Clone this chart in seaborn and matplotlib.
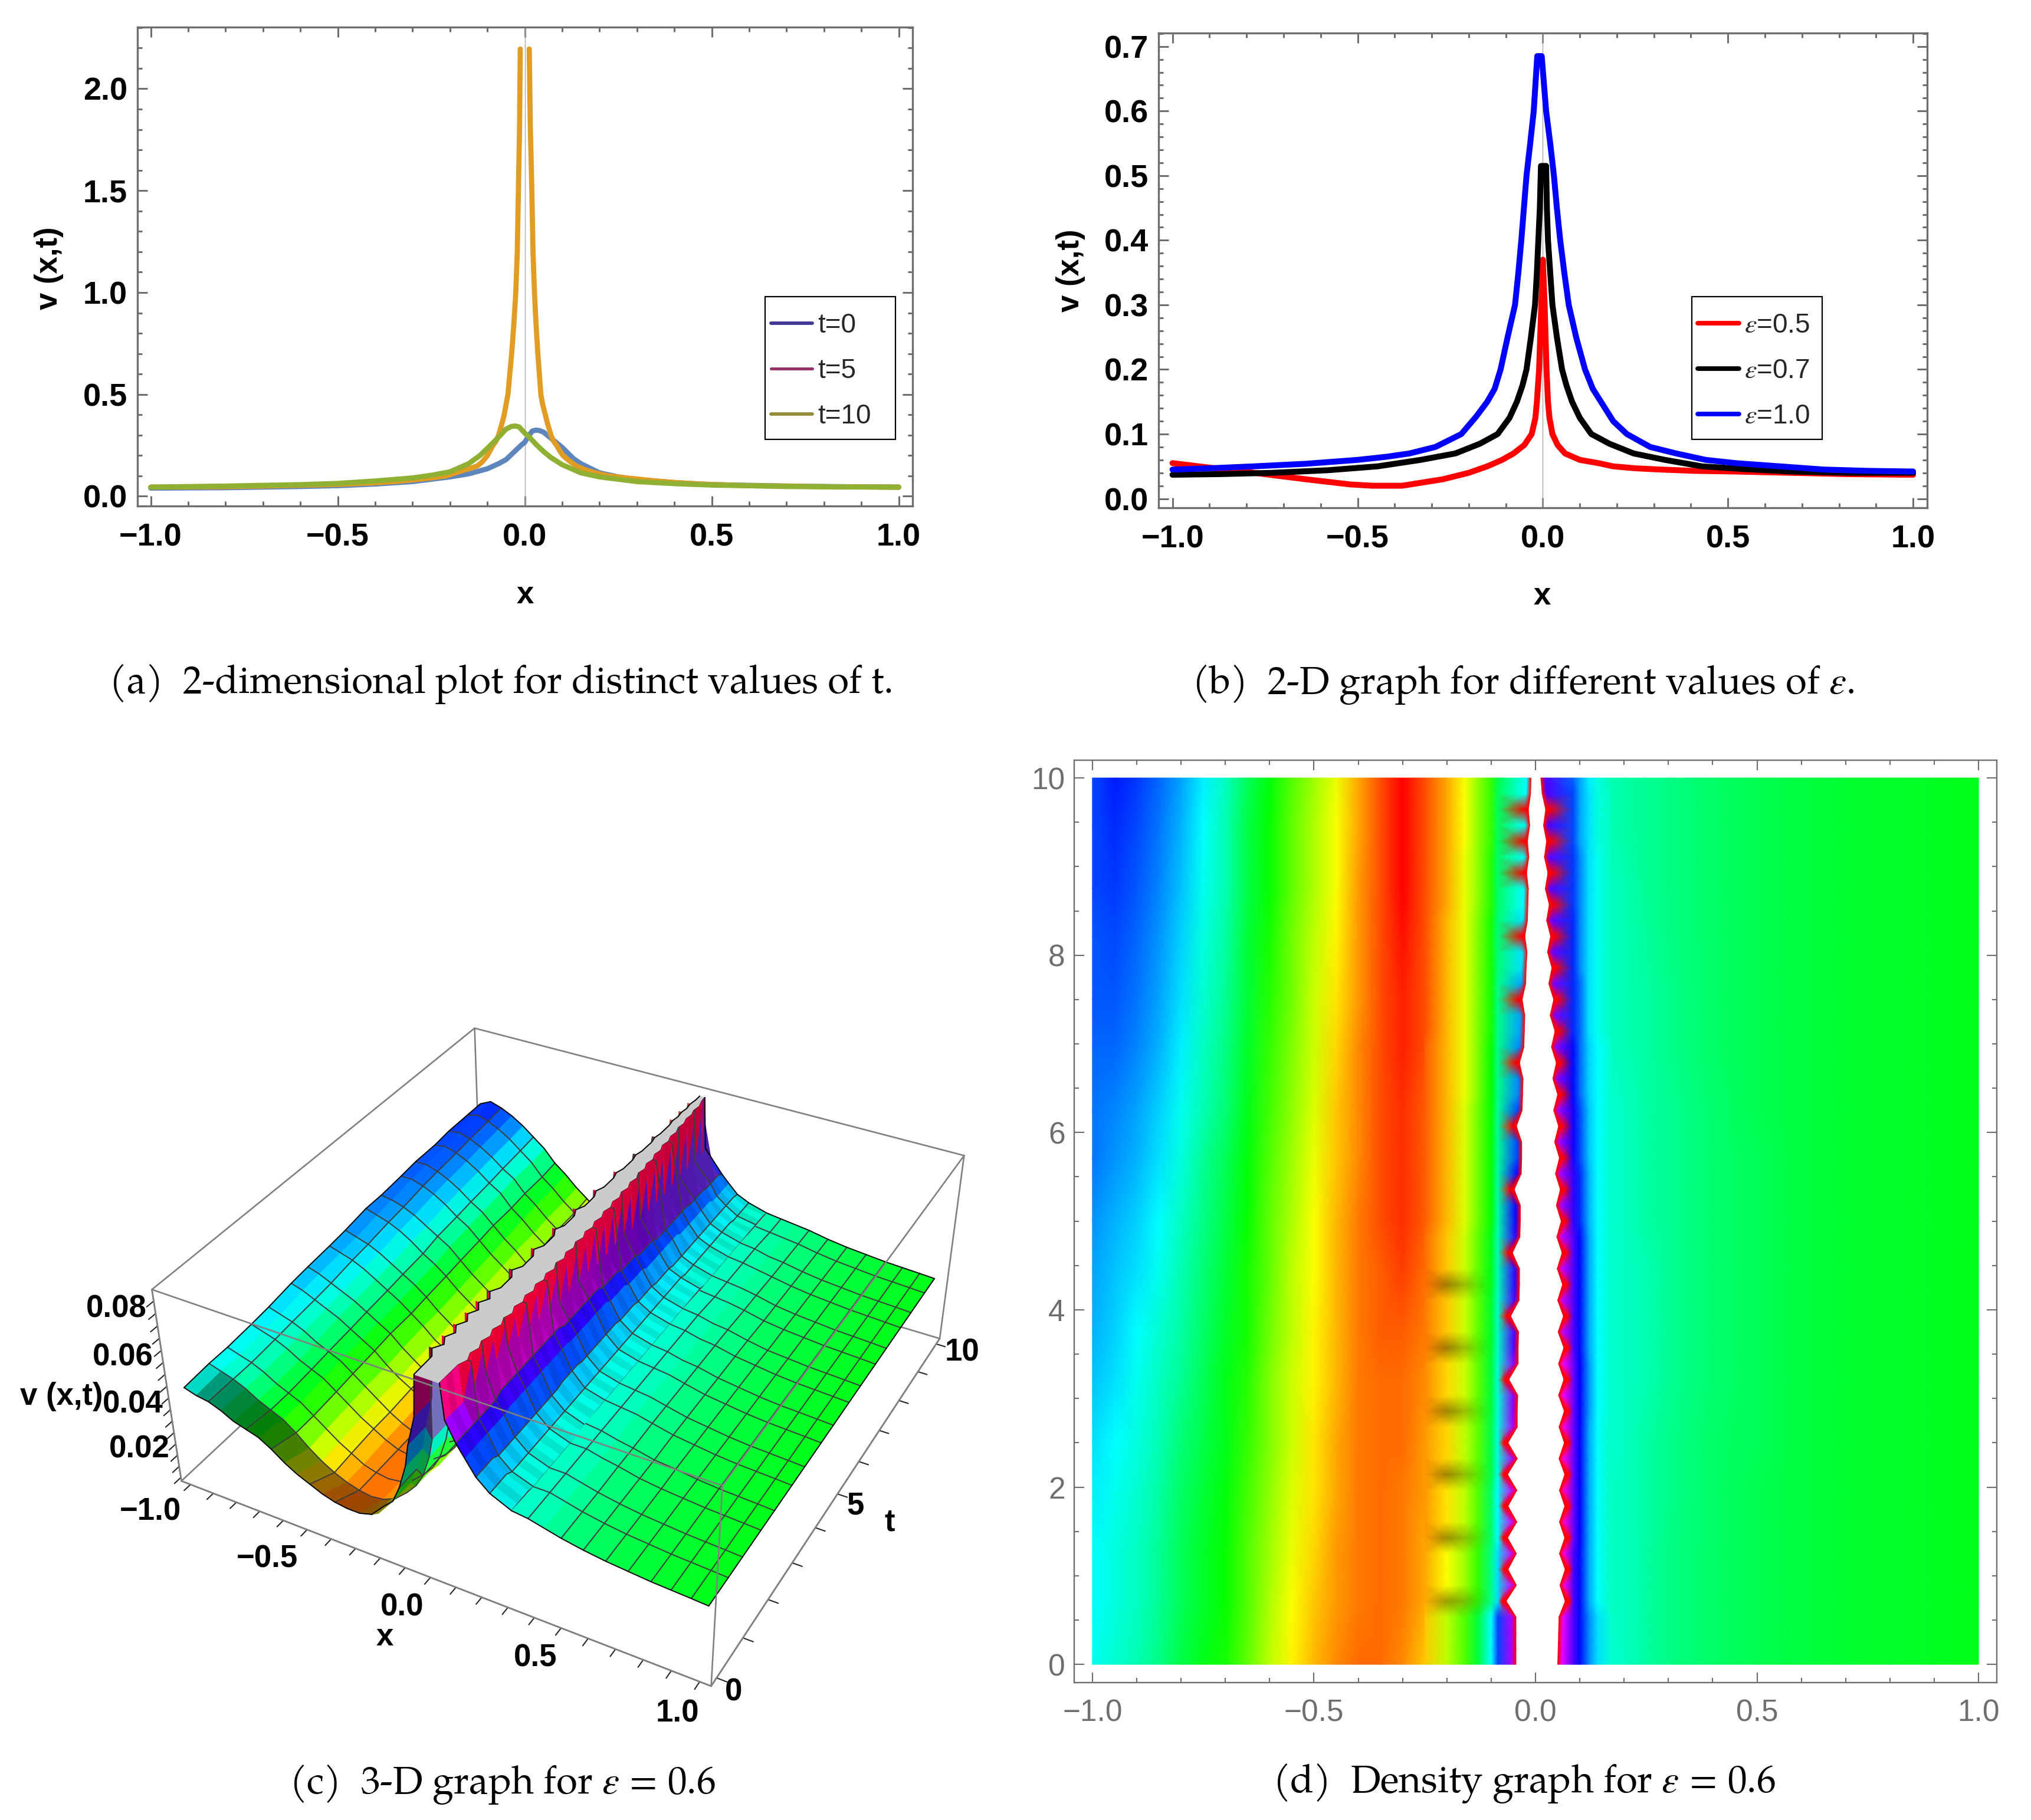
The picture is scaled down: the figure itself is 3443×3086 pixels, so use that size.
import numpy as np
import matplotlib
matplotlib.use('Agg')
import matplotlib.pyplot as plt
import seaborn as sns
from matplotlib.colors import hsv_to_rgb
from matplotlib.lines import Line2D
from matplotlib.patches import Rectangle
from matplotlib.ticker import MultipleLocator

sns.set_theme(style='ticks')
plt.rcParams['font.family'] = ['Liberation Sans']
plt.rcParams['mathtext.fontset'] = 'stix'

W, H = 3443, 3086

# ---------------- panel (a) ----------------
a_blue_x = [-1, -.8, -.6, -.5, -.4, -.3, -.2, -.15, -.1, -.07, -.05, -.03, -.01, 0, .01, .02, .03, .04, .05, .07, .1, .13, .15, .2, .25, .3, .4, .5, .7, .85, 1]
a_blue_y = [.04, .042, .048, .052, .06, .072, .095, .11, .135, .16, .18, .215, .25, .265, .295, .32, .325, .322, .315, .285, .24, .185, .16, .115, .095, .082, .067, .057, .05, .047, .045]
a_orange_left_x = [-1, -.8, -.7, -.6, -.5, -.45, -.4, -.35, -.3, -.25, -.21, -.18, -.16, -.14, -.126, -.113, -.1, -.085, -.077, -.07, -.062, -.055, -.05, -.045, -.04, -.035, -.029, -.024, -.02, -.017, -.014, -.012]
a_orange_left_y = [.045, .047, .05, .054, .058, .062, .066, .072, .08, .09, .1, .118, .13, .14, .15, .17, .2, .25, .27, .3, .35, .4, .45, .5, .6, .7, .85, 1, 1.2, 1.5, 1.8, 2.195]
a_orange_right_x = [.012, .015, .019, .022, .026, .03, .035, .039, .043, .048, .055, .062, .07, .077, .085, .093, .102, .118, .137, .155, .17, .185, .2, .225, .25, .27, .3, .35, .4, .45, .5, .6, .7, .8, 1]
a_orange_right_y = [2.195, 1.8, 1.5, 1.2, 1, .85, .7, .6, .5, .45, .4, .35, .3, .27, .25, .225, .2, .175, .15, .135, .125, .117, .11, .1, .095, .09, .085, .075, .068, .062, .058, .052, .05, .047, .045]
a_green_x = [-1, -.8, -.6, -.5, -.4, -.3, -.25, -.2, -.15, -.12, -.1, -.07, -.05, -.035, -.025, -.015, 0, .015, .03, .05, .07, .1, .15, .2, .3, .4, .5, .7, 1]
a_green_y = [.045, .05, .057, .063, .075, .09, .103, .12, .16, .2, .235, .29, .33, .343, .345, .34, .31, .285, .255, .22, .19, .155, .115, .095, .072, .062, .055, .048, .044]
a_labels = ['t=0', 't=5', 't=10']

# ---------------- panel (b) ----------------
b_red_x = [-1, -.9, -.78, -.64, -.52, -.46, -.38, -.27, -.2, -.15, -.11, -.079, -.05, -.03, -.02, -.016, -.01, -.004, 0, .005, .01, .014, .018, .026, .04, .06, .1, .15, .19, .25, .32, .41, .52, .67, .82, 1]
b_red_y = [.055, .048, .04, .03, .022, .02, .02, .03, .04, .05, .06, .07, .083, .1, .125, .15, .2, .3, .37, .3, .2, .15, .125, .1, .083, .07, .06, .055, .05, .047, .045, .043, .042, .04, .038, .037]
b_black_x = [-1, -.87, -.73, -.58, -.446, -.33, -.236, -.17, -.122, -.09, -.07, -.055, -.044, -.032, -.021, -.016, -.012, -.008, -.005, .009, .011, .014, .02, .026, .038, .052, .064, .079, .1, .131, .18, .245, .33, .43, .54, .67, .83, 1]
b_black_y = [.037, .038, .04, .044, .05, .06, .07, .085, .1, .125, .15, .175, .2, .25, .3, .35, .4, .45, .515, .515, .45, .4, .35, .3, .25, .2, .175, .15, .125, .1, .085, .07, .06, .05, .046, .042, .04, .04]
b_blue_x = [-1, -.9, -.78, -.64, -.5, -.42, -.36, -.29, -.22, -.18, -.15, -.13, -.114, -.095, -.075, -.066, -.058, -.051, -.044, -.034, -.0245, -.015, -.003, .009, .02, .03, .038, .047, .058, .07, .09, .114, .135, .157, .19, .227, .29, .36, .44, .52, .64, .76, .88, 1]
b_blue_y = [.045, .047, .05, .054, .06, .065, .07, .08, .1, .127, .15, .17, .2, .25, .3, .35, .4, .45, .5, .55, .6, .685, .685, .6, .55, .5, .45, .4, .35, .3, .25, .2, .17, .15, .12, .1, .08, .07, .06, .055, .05, .045, .043, .042]
b_labels = [r'$\epsilon$=0.5', r'$\epsilon$=0.7', r'$\epsilon$=1.0']

# ---------------- panels (c), (d): colour hue read at grid nodes ----------------
x_far_left = [-1, -.95, -.9, -.85, -.8, -.75, -.7, -.65, -.6, -.55, -.5, -.45, -.4, -.35, -.3, -.25]
x_far_right = [.17, .2, .25, .3, .4, .5, .6, .7, .8, .9, 1]
hue_far_left = [
    [.49, .47, .45, .42, .38, .35, .32, .27, .21, .16, .12, .09, .07, .07, .09, .13],
    [.50, .48, .46, .43, .39, .36, .33, .28, .22, .17, .13, .10, .08, .07, .08, .11],
    [.50, .48, .46, .43, .39, .36, .33, .28, .23, .18, .14, .10, .08, .07, .08, .11],
    [.51, .49, .47, .44, .40, .37, .34, .29, .24, .19, .15, .11, .08, .07, .08, .10],
    [.52, .50, .48, .45, .41, .38, .35, .30, .25, .20, .15, .11, .08, .07, .07, .10],
    [.54, .52, .49, .46, .43, .39, .35, .31, .25, .20, .16, .12, .08, .07, .07, .09],
    [.55, .53, .50, .47, .44, .40, .36, .32, .26, .21, .16, .12, .08, .06, .06, .08],
    [.56, .54, .52, .49, .45, .41, .37, .32, .27, .21, .17, .12, .08, .06, .04, .07],
    [.57, .55, .53, .50, .46, .42, .38, .33, .27, .22, .17, .12, .08, .05, .03, .06],
    [.59, .57, .55, .52, .48, .43, .39, .34, .28, .23, .18, .13, .09, .05, .03, .06],
    [.59, .58, .56, .53, .49, .45, .41, .35, .29, .24, .19, .13, .09, .05, .03, .06],
    [.60, .60, .58, .55, .51, .46, .42, .36, .30, .25, .20, .14, .09, .05, .02, .05],
    [.61, .61, .59, .56, .52, .47, .43, .37, .31, .26, .20, .15, .10, .05, .02, .05],
    [.61, .62, .60, .57, .53, .48, .44, .37, .32, .26, .21, .16, .10, .05, .01, .05],
    [.62, .63, .61, .58, .54, .49, .45, .38, .33, .27, .22, .17, .10, .05, .00, .05],
    [.62, .64, .62, .59, .55, .50, .45, .38, .33, .27, .22, .17, .11, .05, .00, .05],
    [.62, .65, .63, .60, .56, .51, .46, .39, .34, .28, .23, .18, .11, .05, .00, .05],
]
hue_far_right = [
    [.47, .46, .44, .42, .40, .385, .375, .365, .36, .355, .35],
    [.46, .46, .44, .42, .40, .385, .375, .365, .36, .355, .35],
    [.46, .46, .44, .42, .40, .385, .375, .365, .36, .355, .35],
    [.46, .46, .44, .425, .40, .385, .375, .365, .36, .355, .35],
    [.47, .46, .44, .425, .40, .39, .375, .365, .36, .355, .35],
    [.47, .46, .45, .43, .405, .39, .375, .365, .36, .355, .35],
    [.47, .46, .45, .43, .405, .39, .375, .365, .36, .355, .35],
    [.47, .46, .45, .43, .405, .39, .375, .365, .36, .355, .35],
    [.47, .46, .44, .43, .405, .39, .375, .365, .36, .355, .35],
    [.47, .46, .44, .43, .405, .39, .375, .365, .36, .355, .35],
    [.47, .46, .44, .43, .405, .385, .375, .365, .36, .355, .35],
    [.46, .45, .44, .425, .40, .385, .375, .365, .36, .355, .35],
    [.46, .45, .44, .425, .40, .385, .375, .365, .36, .355, .35],
    [.46, .45, .435, .42, .40, .385, .375, .365, .36, .355, .35],
    [.46, .45, .43, .42, .40, .385, .375, .365, .36, .355, .35],
    [.45, .44, .43, .42, .40, .385, .375, .365, .36, .355, .35],
    [.45, .44, .43, .42, .40, .385, .375, .365, .36, .355, .35],
]
far_row_index = [0, 4, 7, 11, 14, 18, 21, 25, 28, 32, 35, 39, 42, 46, 49, 53, 56]

x_near_left = [-.25, -.2, -.16, -.13, -.1, -.085]
x_near_right = [.085, .10, .12, .14, .17]
# the 3-D surface of panel (c) reaches the same hues further from the ridge
x3d_near_right = [.10, .13, .17, .22, .30]
x3d_far_right = [.30, .36, .42, .48, .56, .64, .72, .80, .87, .94, 1]
# height of the front (t = 0) edge above the hue level, in hue units
front_lift_far = [0, 0, .01, .015, .02, .03, .04, .05, .06, .07, .08, .08, .08, .07, .05, .03]
front_lift_near = [.03, .02, 0, 0, 0, 0, 0, 0]
hue_near_left = [
    [.13, .21, .28, .37, .50, .62],
    [.11, .17, .23, .30, .42, .52],
    [.10, .15, .21, .28, .40, .50],
    [.10, .14, .21, .27, .38, .48],
    [.09, .14, .20, .27, .37, .47],
    [.08, .13, .20, .27, .36, .46],
    [.07, .13, .20, .27, .35, .45],
    [.06, .12, .19, .26, .33, .44],
    [.06, .12, .19, .26, .33, .43],
    [.06, .12, .18, .25, .33, .42],
    [.05, .12, .18, .25, .32, .42],
    [.05, .12, .18, .25, .32, .41],
    [.05, .11, .18, .24, .31, .40],
    [.05, .11, .17, .24, .30, .39],
    [.05, .11, .17, .24, .30, .38],
]
hue_near_right = [
    [.72, .66, .58, .52, .47],
    [.72, .66, .56, .50, .46],
    [.74, .67, .56, .50, .46],
    [.74, .67, .56, .50, .46],
    [.74, .67, .57, .50, .47],
    [.72, .66, .56, .50, .47],
    [.72, .66, .56, .50, .47],
    [.70, .64, .55, .50, .47],
    [.68, .62, .54, .50, .47],
    [.66, .60, .53, .50, .47],
    [.64, .60, .52, .49, .46],
    [.64, .58, .52, .49, .46],
    [.63, .58, .52, .49, .46],
    [.62, .56, .52, .48, .46],
    [.60, .56, .51, .48, .45],
]
hue_inner_left = [.78, .80, .80, .78, .76, .72, .70, .68, .62, .58, .56, .52, .50, .50, .50]
hue_inner_right = [.82, .85, .86, .85, .83, .80, .80, .78, .78, .76, .75, .74, .73, .72, .72]
edge_left = [-.044, -.044, -.044, -.044, -.066, -.043, -.062, -.043, -.063, -.042, -.062, -.042, -.063, -.041, -.062,
             -.041, -.041, -.04, -.06, -.039, -.039, -.038, -.056, -.037, -.036, -.036, -.052, -.035, -.034, -.034,
             -.048, -.032, -.031, -.031, -.043, -.03, -.029, -.028, -.036, -.026, -.025, -.024, -.03, -.022, -.021,
             -.019, -.024, -.018, -.017, -.016, -.02, -.015, -.018, -.013, -.016, -.011, -.01]
edge_right = [.05, .051, .052, .053, .067, .055, .067, .054, .066, .054, .066, .054, .066, .053, .065, .053, .065, .052,
              .064, .052, .064, .051, .063, .05, .061, .049, .06, .048, .058, .047, .056, .045, .054, .043, .052, .041,
              .05, .039, .047, .036, .044, .033, .041, .03, .037, .027, .034, .025, .031, .022, .028, .02, .025, .018,
              .023, .015, .012]
teeth_left = [4, 6, 8, 10, 12, 14, 18, 22, 26, 30, 34, 38, 42, 46, 50, 52, 54]
teeth_right = [4, 6, 8, 10, 12, 14, 16, 18, 20, 22, 24, 26, 28, 30, 32, 34, 36, 38, 40, 42, 44, 46, 48, 50, 52, 54]
band_rows = [4, 8, 12, 16, 20, 24]
band_dim = [1, .62, .75, .9]

v_low, v_high = .01, .088   # height at hue 0 and at hue 1 (clip level)

x_ticks_c = [-1, -.9, -.8, -.7, -.6, -.5, -.4, -.3, -.2, -.1, 0, .1, .2, .3, .4, .5, .6, .7, .8, .9, 1]
t_ticks_c = [0, 1, 2, 3, 4, 5, 6, 7, 8, 9, 10]
z_ticks_c = [.01, .015, .02, .025, .03, .035, .04, .045, .05, .055, .06, .065, .07, .075, .08, .085]
z_tick_text = ['0.02', '0.04', '0.06', '0.08']
x_tick_text = ['\u22121.0', '\u22120.5', '0.0', '0.5', '1.0']
t_tick_text = ['0', '5', '10']

captions = ['(a)  2-dimensional plot for distinct values of t.',
            r'(b)  2-D graph for different values of $\epsilon$.',
            r'(c)  3-D graph for $\epsilon$ = 0.6',
            r'(d)  Density graph for $\epsilon$ = 0.6']

GRAY = '#6E6E6E'
fig = plt.figure(figsize=(W / 100, H / 100), dpi=100, facecolor='white')


def rect(l, t, r, b):
    return [l / W, 1 - b / H, (r - l) / W, (b - t) / H]


def style_2d(ax, xlim, ylim, xmaj, xmin, ymaj, ymin, lw, size, weight, color, pad_x, pad_y, major, minor, yfmt):
    ax.set_xlim(*xlim)
    ax.set_ylim(*ylim)
    ax.xaxis.set_major_locator(MultipleLocator(xmaj))
    ax.xaxis.set_minor_locator(MultipleLocator(xmin))
    ax.yaxis.set_major_locator(MultipleLocator(ymaj))
    ax.yaxis.set_minor_locator(MultipleLocator(ymin))
    ax.xaxis.set_major_formatter(lambda v, p: f'{v:.1f}'.replace('-', '\u2212'))
    ax.yaxis.set_major_formatter(lambda v, p: yfmt.format(v))
    for s in ax.spines.values():
        s.set_color(GRAY)
        s.set_linewidth(lw)
    ax.tick_params(which='major', direction='in', top=True, right=True, length=major, width=lw * .9, color=GRAY)
    ax.tick_params(which='minor', direction='in', top=True, right=True, length=minor, width=lw * .9, color=GRAY)
    ax.tick_params(axis='x', which='major', pad=pad_x, labelsize=size, labelcolor=color)
    ax.tick_params(axis='y', which='major', pad=pad_y, labelsize=size, labelcolor=color)
    for t in ax.get_xticklabels() + ax.get_yticklabels():
        t.set_fontweight(weight)
    ax.set_xlabel('')
    ax.set_ylabel('')


def legend_box(ax, handles, labels, l, t, r, b, text_size):
    fig.add_artist(Rectangle((l / W, 1 - b / H), (r - l) / W, (b - t) / H, transform=fig.transFigure,
                             fill=False, edgecolor='black', linewidth=1.6, zorder=6))
    return ax.legend(handles, labels, loc='upper left', frameon=False, borderpad=0, borderaxespad=0,
                     bbox_to_anchor=((l + 10) / W, 1 - (t + 27) / H), bbox_transform=fig.transFigure,
                     handlelength=70 / (text_size / .72), handletextpad=.2, labelspacing=.72, fontsize=text_size)


# panel (a)
AL, AT, AR, AB = 232.8, 45.8, 1547, 858.4
ax_a = fig.add_axes(rect(AL, AT, AR, AB))
ax_a.axvline(0, color='#AAAAAA', lw=1)
LW = 6.3
sns.lineplot(x=a_blue_x, y=a_blue_y, color='#5E86BC', lw=LW, ax=ax_a, estimator=None, sort=False)
sns.lineplot(x=a_orange_left_x, y=a_orange_left_y, color='#E19C24', lw=LW, ax=ax_a, estimator=None, sort=False)
sns.lineplot(x=a_orange_right_x, y=a_orange_right_y, color='#E19C24', lw=LW, ax=ax_a, estimator=None, sort=False)
sns.lineplot(x=a_green_x, y=a_green_y, color='#8FB032', lw=LW, ax=ax_a, estimator=None, sort=False)
style_2d(ax_a, (-1.036, 1.037), (-.049, 2.303), .5, .1, .5, .1, 2.4, 39, 'bold', 'black', 20, 12, 12, 6, '{:.1f}')
legend_box(ax_a, [Line2D([], [], color='#3F3A96', lw=4.2), Line2D([], [], color='#96346A', lw=3.6),
                  Line2D([], [], color='#978A38', lw=4.2)], a_labels, 1297, 503, 1518, 745, 33)
ax_a.set_xlabel('x', fontsize=38, fontweight='bold', color='black')
ax_a.xaxis.set_label_coords((890 - AL) / (AR - AL), -(984 - AB) / (AB - AT), transform=ax_a.transAxes)
ax_a.set_ylabel('v (x,t)', fontsize=38, fontweight='bold', color='black')
ax_a.yaxis.set_label_coords((108 - AL) / (AR - AL), 1 - (455 - AT) / (AB - AT), transform=ax_a.transAxes)

# panel (b)
BL, BT, BR, BB = 1963.8, 55.7, 3267, 861.4
ax_b = fig.add_axes(rect(BL, BT, BR, BB))
ax_b.axvline(0, color='#AAAAAA', lw=1)
LW = 7.2
sns.lineplot(x=b_red_x, y=b_red_y, color='#FF0000', lw=LW, ax=ax_b, estimator=None, sort=False)
sns.lineplot(x=b_black_x, y=b_black_y, color='#000000', lw=LW, ax=ax_b, estimator=None, sort=False)
sns.lineplot(x=b_blue_x, y=b_blue_y, color='#0000FF', lw=LW, ax=ax_b, estimator=None, sort=False)
style_2d(ax_b, (-1.038, 1.038), (-.0145, .721), .5, .1, .1, .02, 2.4, 39, 'bold', 'black', 20, 12, 12, 6, '{:.1f}')
legend_box(ax_b, [Line2D([], [], color='#FF0000', lw=5.6), Line2D([], [], color='#000000', lw=5.6),
                  Line2D([], [], color='#0000FF', lw=5.6)], b_labels, 2868, 503, 3089, 745, 33)
ax_b.set_xlabel('x', fontsize=38, fontweight='bold', color='black')
ax_b.xaxis.set_label_coords((2614 - BL) / (BR - BL), -(986 - BB) / (BB - BT), transform=ax_b.transAxes)
ax_b.set_ylabel('v (x,t)', fontsize=38, fontweight='bold', color='black')
ax_b.yaxis.set_label_coords((1840 - BL) / (BR - BL), 1 - (459 - BT) / (BB - BT), transform=ax_b.transAxes)

# shared grids
rows = 57
t_near = np.linspace(0, 10, rows)
t_far = t_near[far_row_index]
hfl, hfr = np.array(hue_far_left), np.array(hue_far_right)
hold = lambda arr: np.repeat(np.array(arr), 4, axis=0)[:rows]
el, er = np.array(edge_left), np.array(edge_right)
inner_l, inner_r = hold(hue_inner_left), hold(hue_inner_right)
inner_l[teeth_left] = 1.0
inner_r[teeth_right] = 1.0
hnl = np.column_stack([hold(hue_near_left), inner_l, np.ones(rows)])
hnr = np.column_stack([np.ones(rows), inner_r, hold(hue_near_right)])
Xnl = np.column_stack([np.tile(x_near_left, (rows, 1)), el - .01, el])
Xnr = np.column_stack([er, er + .01, np.tile(x_near_right, (rows, 1))])
Xnr3 = np.column_stack([er, er + .012, np.tile(x3d_near_right, (rows, 1))])
Tnl = np.tile(t_near[:, None], (1, Xnl.shape[1]))
Tnr = np.tile(t_near[:, None], (1, Xnr.shape[1]))
Xfl, Tfl = np.meshgrid(x_far_left, t_far)
Xfr, Tfr = np.meshgrid(x_far_right, t_far)
Xfr3, _ = np.meshgrid(x3d_far_right, t_far)


def rgb(h, val=None):
    h = np.asarray(h, float)
    v = np.ones_like(h) if val is None else val
    return hsv_to_rgb(np.stack([np.clip(h, 0, 1), np.ones_like(h), v], -1))


val_nl = np.ones_like(hnl)
val_nl[np.ix_(band_rows, range(4))] = band_dim

# panel (d)
ax_d = fig.add_axes(rect(1821, 1289, 3385, 2853))
ax_d.pcolormesh(Xfl, Tfl, rgb(hfl), shading='gouraud')
ax_d.pcolormesh(Xnl, Tnl, rgb(hnl, val_nl), shading='gouraud')
ax_d.pcolormesh(Xnr, Tnr, rgb(hnr), shading='gouraud')
ax_d.pcolormesh(Xfr, Tfr, rgb(hfr), shading='gouraud')
style_2d(ax_d, (-1.041, 1.041), (-.205, 10.2), .5, .1, 2, .5, 1.7, 37, 'normal', GRAY, 20, 11, 12, 6, '{:.0f}')

# panel (c)
FOCAL = .4
S = 3374 / FOCAL
OX, OY = 980, 2231.5
ax_c = fig.add_axes(rect(180, 1471, 1748, 3040), projection='3d', computed_zorder=False)
ax_c.patch.set_alpha(0)
ax_c.set_xlim(-1.04, 1.04, view_margin=0)
ax_c.set_ylim(-.2, 10.2, view_margin=0)
ax_c.set_zlim(.0084, .0896, view_margin=0)
ax_c.view_init(elev=36.035, azim=-61.644, roll=0)
ax_c.set_proj_type('persp', focal_length=FOCAL)
ax_c.set_box_aspect((1, 1.003, .401), zoom=2.239 * FOCAL)
vx0, vx1 = ax_c.viewLim.intervalx
vy0, vy1 = ax_c.viewLim.intervaly
ax_c.set_position(rect(OX + S * vx0, OY - S * vy1, OX + S * vx1, OY - S * vy0))
ax_c.grid(False)
for axis in (ax_c.xaxis, ax_c.yaxis, ax_c.zaxis):
    axis.pane.set_visible(False)
    axis.line.set_color('#808080')
    axis.line.set_linewidth(1.8)
    axis._axinfo['tick'].update(inward_factor=.22, outward_factor=0, color='#808080',
                                linewidth={True: 1.5, False: 1.5})
ax_c.set_xticks(x_ticks_c)
ax_c.set_yticks(t_ticks_c)
ax_c.set_zticks(z_ticks_c)
ax_c.set_xticklabels([])
ax_c.set_yticklabels([])
ax_c.set_zticklabels([])
ax_c.zaxis.set_ticks_position('lower')

zv = lambda h: v_low + (v_high - v_low) * np.asarray(h, float)


def quad_colors(c, lit=None):
    c = (c[:-1, :-1] + c[1:, :-1] + c[:-1, 1:] + c[1:, 1:]) / 4
    if lit is not None:
        c = c * lit[..., None]
    return np.pad(c, ((0, 1), (0, 1), (0, 0)), mode='edge')


MESH = dict(color='#3C3C3C', lw=1.4)
EDGE = dict(color='black', lw=1.4)
BOX = dict(color='#808080', lw=1.9)
xb0, xb1, tb0, tb1, zb0, zb1 = -1.04, 1.04, -.2, 10.2, .0084, .0896


def box_edge(p, q, zorder):
    ax_c.plot([p[0], q[0]], [p[1], q[1]], [p[2], q[2]], zorder=zorder, **BOX)


for p, q in [((xb0, tb0, zb0), (xb0, tb1, zb0)), ((xb0, tb1, zb0), (xb1, tb1, zb0)), ((xb0, tb1, zb0), (xb0, tb1, zb1)),
             ((xb0, tb0, zb1), (xb0, tb1, zb1)), ((xb0, tb1, zb1), (xb1, tb1, zb1)), ((xb0, tb0, zb0), (xb0, tb0, zb1)),
             ((xb1, tb1, zb0), (xb1, tb1, zb1))]:
    box_edge(p, q, 1)


def sheet(X, T, Hu, lit, zo, line_cols, line_rows, lift=None):
    Z = zv(Hu + (0 if lift is None else lift))
    ax_c.plot_surface(X, T, Z, facecolors=quad_colors(rgb(Hu), lit), rstride=1, cstride=1, shade=False,
                      linewidth=.8, antialiased=True, zorder=zo)
    for j in line_cols:
        ax_c.plot(X[:, j], T[:, j], Z[:, j], zorder=zo + .1, **MESH)
    for i in line_rows:
        ax_c.plot(X[i], T[i], Z[i], zorder=zo + .1, **MESH)
    ax_c.plot(X[0], T[0], Z[0], zorder=zo + .2, **EDGE)
    ax_c.plot(X[-1], T[-1], Z[-1], zorder=zo + .2, **EDGE)
    return Z


lit_fl = np.ones((hfl.shape[0] - 1, hfl.shape[1] - 1))
lit_fl[0] = [.85, .6, .55, .52, .5, .5, .5, .5, .52, .55, .6, .62, .62, .6, .55]
lift_fl = np.zeros_like(hfl)
lift_fl[0] = front_lift_far
zfl = sheet(Xfl, Tfl, hfl, lit_fl, 2, [2, 5, 7, 10, 12, 15], range(1, 16), lift_fl)
ax_c.plot(Xfl[:, 0], Tfl[:, 0], zfl[:, 0], zorder=2.2, **EDGE)

near_rows_mesh = [4, 7, 11, 14, 18, 21, 25, 28, 32, 35, 39, 42, 46, 49, 53]
lit_nl = np.ones((rows - 1, hnl.shape[1] - 1))
lit_nl[:4] = .6
lift_nl = np.zeros_like(hnl)
lift_nl[0] = front_lift_near
sheet(Xnl, Tnl, hnl, lit_nl, 3, [3], near_rows_mesh, lift_nl)

# clipped top of the ridge
Xcap = np.column_stack([el, er])
Tcap = np.column_stack([t_near, t_near])
ax_c.plot_surface(Xcap, Tcap, np.full(Xcap.shape, v_high), color='#CBCBCB', rstride=1, cstride=1, shade=False,
                  linewidth=.8, edgecolor='#CBCBCB', zorder=4)
ax_c.plot(el, t_near, np.full(rows, v_high), zorder=4.1, **EDGE)
ax_c.plot(er, t_near, np.full(rows, v_high), zorder=4.1, **EDGE)

lit_nr = np.ones((rows - 1, hnr.shape[1] - 1))
lit_nr[1::2] = .9
sheet(Xnr3, Tnr, hnr, lit_nr, 5, [2, 4, 5, 6], near_rows_mesh)

sheet(Xfr3, Tfr, hfr, None, 6, [1, 3, 4, 5, 6, 7, 8, 9], range(1, 16))
ax_c.plot(Xfr3[:, -1], Tfr[:, -1], zv(hfr[:, -1]), zorder=6.2, **EDGE)

for p, q in [((xb0, tb0, zb1), (xb1, tb0, zb1)), ((xb1, tb0, zb1), (xb1, tb1, zb1)), ((xb1, tb0, zb0), (xb1, tb0, zb1)),
             ((xb0, tb0, zb0), (xb1, tb0, zb0)), ((xb1, tb0, zb0), (xb1, tb1, zb0))]:
    box_edge(p, q, 7)

# labels of panel (c)
lab = dict(fontsize=38, fontweight='bold', color='black', ha='center', va='center', zorder=8)
for s, (px, py) in zip(x_tick_text, [(254.6, 2564), (452.6, 2644), (682, 2725), (908, 2812), (1148, 2906)]):
    fig.text(px / W, 1 - py / H, s, **lab)
for s, (px, py) in zip(t_tick_text, [(1244, 2869), (1450, 2554), (1631, 2294)]):
    fig.text(px / W, 1 - py / H, s, **lab)
for s, (px, py) in zip(z_tick_text, [(236, 2458), (225, 2382), (208, 2302), (197, 2219)]):
    fig.text(px / W, 1 - py / H, s, **lab)
for s, (px, py) in [('v (x,t)', (104, 2368)), ('x', (652.5, 2776)), ('t', (1508, 2581))]:
    fig.text(px / W, 1 - py / H, s, **lab)

# captions
for s, (px, py) in zip(captions, [(850, 1160), (2582, 1160), (851, 3025), (2583, 3023)]):
    fig.text(px / W, 1 - py / H, s, family=['TeX Gyre Pagella', 'DejaVu Serif'], fontsize=47, color='black',
             ha='center', va='center')

fig.savefig('out.png', dpi=100)
